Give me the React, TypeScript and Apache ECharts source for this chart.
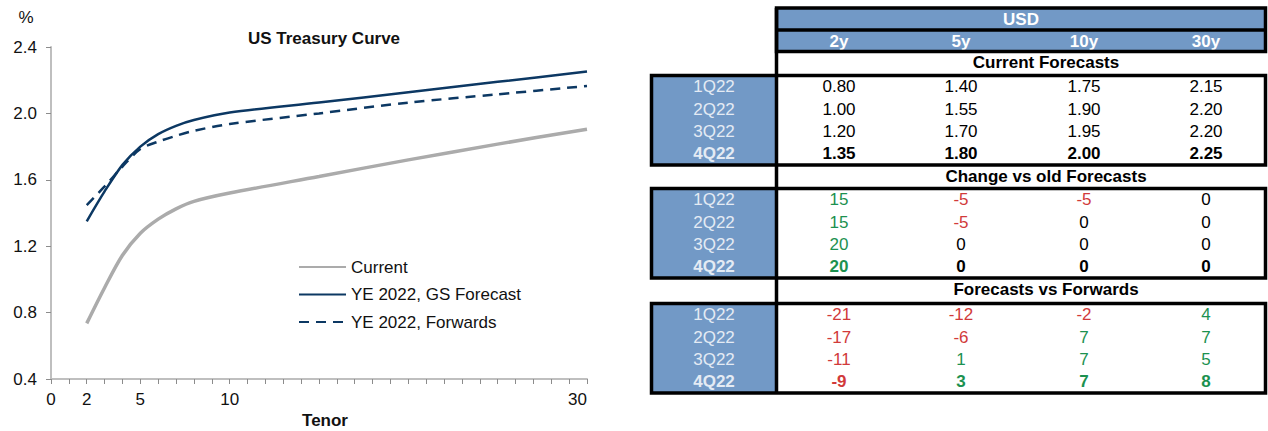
import React, { useEffect, useRef } from "react";
import * as echarts from "echarts";

// ---- Chart data ----
const tenors = [2, 3, 4, 5, 6, 7, 8, 10, 15, 20, 25, 30];
const currentCurve = [0.735, 0.95, 1.145, 1.278, 1.363, 1.425, 1.47, 1.52, 1.62, 1.72, 1.815, 1.905];
const gsForecastCurve = [1.35, 1.53, 1.69, 1.8, 1.875, 1.925, 1.96, 2.005, 2.065, 2.127, 2.19, 2.252];
const forwardsCurve = [1.448, 1.56, 1.68, 1.785, 1.83, 1.865, 1.895, 1.936, 2.0, 2.065, 2.115, 2.165];
const xTickLabels = [0, 2, 5, 10, 30];
const seriesNames = ["Current", "YE 2022, GS Forecast", "YE 2022, Forwards"];

// ---- Table data ----
const tableCurrency = "USD";
const tableColumns = ["2y", "5y", "10y", "30y"];
const quarters = ["1Q22", "2Q22", "3Q22", "4Q22"];
const sectionTitles = ["Current Forecasts", "Change vs old Forecasts", "Forecasts vs Forwards"];
const currentForecasts = [
  [0.8, 1.4, 1.75, 2.15],
  [1.0, 1.55, 1.9, 2.2],
  [1.2, 1.7, 1.95, 2.2],
  [1.35, 1.8, 2.0, 2.25],
];
const changeVsOld = [
  [15, -5, -5, 0],
  [15, -5, 0, 0],
  [20, 0, 0, 0],
  [20, 0, 0, 0],
];
const fcstVsFwds = [
  [-21, -12, -2, 4],
  [-17, -6, 7, 7],
  [-11, 1, 7, 5],
  [-9, 3, 7, 8],
];

const FONT = '"Liberation Sans", Arial, sans-serif';
const NAVY = "#0c3863";
const GRAY = "#ababab";
const BLUE = "#7299c6";
const GREEN = "#1c9150";
const RED = "#d13a3a";
const LABEL_WHITE = "#e4ebf4";

function txt(text: string, x: number, y: number, opts: any = {}) {
  return {
    type: "text",
    silent: true,
    z: 10,
    style: {
      text,
      x,
      y,
      fill: opts.fill || "#000",
      fontSize: opts.fontSize || 17,
      fontFamily: FONT,
      fontWeight: opts.bold ? "bold" : "normal",
      align: opts.align || "center",
      textAlign: opts.align || "center",
      verticalAlign: "middle",
      textVerticalAlign: "middle",
    },
  };
}

function buildTable() {
  const els: any[] = [];
  const L = 776.5;
  const R = 1265.5;
  const LL = 651.5;
  const lw = 3.5;
  const colX = [839, 961, 1084, 1206];
  const headTop = 8;
  const headMid = 30;
  const headBot = 51.5;
  const blockTops = [75.5, 188.5, 303.5];
  const blockH = 89.5;
  const rowOff = [11, 33.5, 56, 77.5];
  const titleY = [62, 176, 289.5];
  const titleX = 1046;

  els.push({ type: "rect", z: 1, shape: { x: L, y: headTop, width: R - L, height: headBot - headTop }, style: { fill: BLUE } });
  blockTops.forEach((t) => {
    els.push({ type: "rect", z: 1, shape: { x: LL, y: t, width: L - LL, height: blockH }, style: { fill: BLUE } });
  });

  els.push(txt(tableCurrency, (L + R) / 2, (headTop + headMid) / 2 + 0.5, { fill: "#fff", bold: true }));
  tableColumns.forEach((c, i) => els.push(txt(c, colX[i], (headMid + headBot) / 2 + 0.5, { fill: "#fff", bold: true })));

  const blocks = [currentForecasts, changeVsOld, fcstVsFwds];
  blocks.forEach((data, b) => {
    els.push(txt(sectionTitles[b], titleX, titleY[b], { bold: true }));
    quarters.forEach((q, r) => {
      const y = blockTops[b] + rowOff[r];
      const bold = r === quarters.length - 1;
      els.push(txt(q, (LL + L) / 2, y, { fill: LABEL_WHITE, bold }));
      data[r].forEach((v, c) => {
        let s: string;
        let fill = "#000";
        if (b === 0) {
          s = v.toFixed(2);
        } else {
          s = String(v);
          fill = v > 0 ? GREEN : v < 0 ? RED : "#000";
        }
        els.push(txt(s, colX[c], y, { fill, bold }));
      });
    });
  });

  const stroke = { stroke: "#000", lineWidth: lw, fill: null };
  els.push({ type: "rect", z: 20, shape: { x: L, y: headTop, width: R - L, height: headBot - headTop }, style: stroke });
  els.push({ type: "line", z: 20, shape: { x1: L, y1: headMid, x2: R, y2: headMid }, style: { stroke: "#000", lineWidth: lw } });
  els.push({ type: "line", z: 20, shape: { x1: L, y1: headTop, x2: L, y2: blockTops[2] + blockH }, style: { stroke: "#000", lineWidth: lw } });
  blockTops.forEach((t) => {
    els.push({ type: "rect", z: 20, shape: { x: LL, y: t, width: R - LL, height: blockH }, style: stroke });
  });
  return els;
}

export default function App() {
  const ref = useRef<HTMLDivElement>(null);

  useEffect(() => {
    document.body.style.margin = "0";
    if (!ref.current) return;
    const chart = echarts.init(ref.current, undefined, { renderer: "svg" });

    const mk = (ys: number[]) => tenors.map((t, i) => [t, ys[i]]);
    const lineSeries = (name: string, ys: number[], color: string, width: number, type: any) => ({
      name,
      type: "line",
      data: mk(ys),
      smooth: 0.3,
      symbol: "none",
      showSymbol: false,
      lineStyle: { color, width, type },
      itemStyle: { color },
    });

    const option: any = {
      animation: false,
      textStyle: { fontFamily: FONT },
      grid: { left: 51, right: 681, top: 47, bottom: 52, containLabel: false },
      legend: {
        orient: "vertical",
        left: 298,
        top: 258.5,
        padding: 0,
        itemWidth: 47,
        itemHeight: 14,
        itemGap: 10.5,
        itemStyle: { opacity: 0 },
        textStyle: { fontSize: 17, fontFamily: FONT, color: "#111", lineHeight: 17 },
        data: seriesNames,
      },
      xAxis: {
        type: "value",
        min: 0,
        max: 30,
        interval: 1,
        axisLine: { show: true, lineStyle: { color: "#bfbfbf", width: 2 } },
        axisTick: { show: true, length: 5, lineStyle: { color: "#8c8c8c", width: 1 } },
        splitLine: { show: false },
        axisLabel: {
          fontSize: 17,
          fontFamily: FONT,
          color: "#111",
          margin: 12,
          alignMaxLabel: "right",
          formatter: (v: number) => (xTickLabels.includes(v) ? String(v) : ""),
        },
      },
      yAxis: {
        type: "value",
        min: 0.4,
        max: 2.4,
        interval: 0.4,
        axisLine: { show: true, lineStyle: { color: "#bfbfbf", width: 2 } },
        axisTick: { show: true, length: 5, lineStyle: { color: "#8c8c8c", width: 1 } },
        splitLine: { show: false },
        axisLabel: {
          fontSize: 17,
          fontFamily: FONT,
          color: "#111",
          margin: 14,
          formatter: (v: number) => v.toFixed(1),
        },
      },
      series: [
        lineSeries(seriesNames[0], currentCurve, GRAY, 3.5, "solid"),
        lineSeries(seriesNames[1], gsForecastCurve, NAVY, 2.5, "solid"),
        lineSeries(seriesNames[2], forwardsCurve, NAVY, 2.5, [10, 7]),
      ],
      graphic: [
        txt("%", 26, 17, { fill: "#111" }),
        txt("US Treasury Curve", 324, 38.5, { bold: true, fill: "#111" }),
        txt("Tenor", 325, 420, { bold: true, fill: "#111" }),
        ...buildTable(),
      ],
    };

    chart.setOption(option);
    return () => chart.dispose();
  }, []);

  return <div ref={ref} style={{ width: 1268, height: 431 }} />;
}
